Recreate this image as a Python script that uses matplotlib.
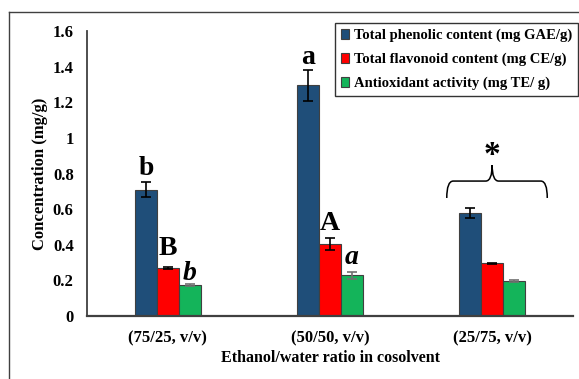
import numpy as np
import matplotlib
matplotlib.use("Agg")
import matplotlib.pyplot as plt
from matplotlib.path import Path
from matplotlib.patches import PathPatch
from matplotlib.lines import Line2D

plt.rcParams['font.family'] = 'Liberation Serif'
plt.rcParams['font.weight'] = 'bold'

# data
groups = ['(75/25, v/v)', '(50/50, v/v)', '(25/75, v/v)']
series = ['Total phenolic content (mg GAE/g)',
          'Total flavonoid content (mg CE/g)',
          'Antioxidant activity (mg TE/ g)']
phenolic = [0.71, 1.295, 0.58]
phenolic_err = [0.04, 0.085, 0.027]
flavonoid = [0.27, 0.404, 0.296]
flavonoid_err = [0.005, 0.032, 0.004]
antioxidant = [0.174, 0.228, 0.197]
antioxidant_err = [0.004, 0.02, 0.003]
yticks = [0, 0.2, 0.4, 0.6, 0.8, 1, 1.2, 1.4, 1.6]
ytick_labels = ['0', '0.2', '0.4', '0.6', '0.8', '1', '1.2', '1.4', '1.6']

colors = ['#1F4E79', '#FF0000', '#14B45A']
err_colors = ['black', 'black', '#707070']

fig = plt.figure(figsize=(5.79, 3.79), dpi=100)
ax = fig.add_axes([0.150, 0.166, 0.840, 0.752])

x = np.arange(len(groups)) + 0.5
w = 0.136
vals = [phenolic, flavonoid, antioxidant]
errs = [phenolic_err, flavonoid_err, antioxidant_err]
for i in range(3):
    ax.bar(x + (i - 1) * w, vals[i], w, color=colors[i], edgecolor='#404040',
           linewidth=0.8, label=series[i], zorder=2)
    ax.errorbar(x + (i - 1) * w, vals[i], yerr=errs[i], fmt='none',
                ecolor=err_colors[i], elinewidth=1.2, capsize=3.5, capthick=1.2, zorder=3)

ax.set_xlim(0, 3)
ax.set_ylim(0, 1.6)
ax.set_yticks(yticks)
ax.set_yticklabels(ytick_labels)
ax.set_xticks(x)
ax.set_xticklabels(groups)
ax.tick_params(length=0, labelsize=12, pad=9.5)
ax.tick_params(axis='x', pad=10)
for s in ['top', 'right']:
    ax.spines[s].set_visible(False)
ax.spines['left'].set_color('#404040')
ax.spines['left'].set_linewidth(1.3)
ax.spines['bottom'].set_color('#404040')
ax.spines['bottom'].set_linewidth(1.6)
ax.set_ylabel('Concentration (mg/g)', fontsize=12, fontweight='bold', labelpad=3)
ax.set_xlabel('Ethanol/water ratio in cosolvent', fontsize=11.5, fontweight='bold', labelpad=3)

# significance letters
ax.text(x[0] - w, 0.83, 'b', ha='center', va='center', fontsize=20, fontweight='bold')
ax.text(x[0], 0.38, 'B', ha='center', va='center', fontsize=20, fontweight='bold')
ax.text(x[0] + w, 0.24, 'b', ha='center', va='center', fontsize=20, fontweight='bold', style='italic')
ax.text(x[1] - w, 1.45, 'a', ha='center', va='center', fontsize=20, fontweight='bold')
ax.text(x[1], 0.52, 'A', ha='center', va='center', fontsize=20, fontweight='bold')
ax.text(x[1] + w, 0.33, 'a', ha='center', va='center', fontsize=20, fontweight='bold', style='italic')

# curly brace with star over the last group
x0, x1, xm = 2.22, 2.84, 2.5
yb, yl, yt = 0.663, 0.758, 0.848
r = 0.04
verts = [(x0, yb), (x0, yl), (x0 + r, yl), (xm - r, yl), (xm, yl), (xm, yt),
         (xm, yl), (xm + r, yl), (x1 - r, yl), (x1, yl), (x1, yb)]
codes = [Path.MOVETO, Path.CURVE3, Path.CURVE3, Path.LINETO, Path.CURVE3, Path.CURVE3,
         Path.CURVE3, Path.CURVE3, Path.LINETO, Path.CURVE3, Path.CURVE3]
ax.add_patch(PathPatch(Path(verts, codes), fill=False, edgecolor='black', lw=1.1))
ax.text(xm, 0.90, '*', ha='center', va='center', fontsize=24, fontweight='bold')

leg = ax.legend(loc='upper right', bbox_to_anchor=(0.998, 0.939), bbox_transform=fig.transFigure,
                frameon=True, fancybox=False, edgecolor='black', fontsize=10.5,
                handlelength=0.6, handleheight=0.6, handletextpad=0.3,
                borderaxespad=0, labelspacing=0.72, borderpad=0.4)
leg.get_frame().set_linewidth(1.0)

# outer frame lines (left and top)
fig.add_artist(Line2D([9 / 579, 9 / 579], [0, 1 - 12 / 379], color='#404040', lw=1.0))
fig.add_artist(Line2D([9 / 579, 1], [1 - 12 / 379, 1 - 12 / 379], color='#404040', lw=1.0))

fig.savefig('out.png', dpi=100)
